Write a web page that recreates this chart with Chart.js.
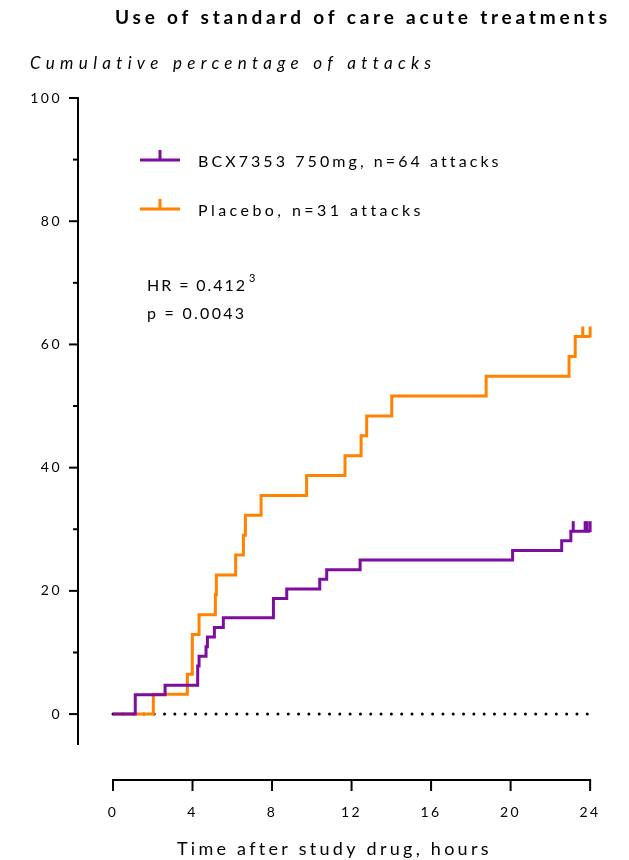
<!DOCTYPE html>
<html><head><meta charset="utf-8">
<script src="https://cdn.jsdelivr.net/npm/chart.js@4"></script>
<style>html,body{margin:0;padding:0;background:#fff;}#wrap{width:629px;height:860px;position:relative;}</style>
</head><body><div id="wrap"><canvas id="c" width="629" height="860"></canvas></div>
<script>
// ---- data ----
const bcxTimes = [0, 1.12, 2.62, 4.26, 4.33, 4.68, 4.75, 5.1, 5.55, 8.07, 8.74, 10.4, 10.75, 12.43, 20.1, 22.57, 23.03, 24];
const bcxPct   = [0, 3.13, 4.69, 7.81, 9.38, 10.94, 12.5, 14.06, 15.63, 18.75, 20.31, 21.88, 23.44, 25.0, 26.56, 28.13, 29.69, 29.69];
const placeboTimes = [0, 2.03, 3.74, 3.99, 4.33, 5.15, 5.2, 6.17, 6.56, 6.66, 7.45, 9.74, 11.67, 12.48, 12.76, 14.02, 18.77, 22.94, 23.25, 24];
const placeboPct   = [0, 3.23, 6.45, 12.9, 16.13, 19.35, 22.58, 25.81, 29.03, 32.26, 35.48, 38.71, 41.94, 45.16, 48.39, 51.61, 54.84, 58.06, 61.29, 61.29];
const bcxCensorTimes = [23.15, 23.75, 23.85, 24];
const placeboCensorTimes = [23.63, 24];
const referenceLine = [0, 24];
const xTicks = [0, 4, 8, 12, 16, 20, 24];
const yTicks = [0, 20, 40, 60, 80, 100];
const yMinorTicks = [10, 30, 50, 70, 90];
const seriesLabels = ['BCX7353 750mg, n=64 attacks', 'Placebo, n=31 attacks'];
const titleText = 'Use of standard of care acute treatments';
const yTitleText = 'Cumulative percentage of attacks';
const xTitleText = 'Time after study drug, hours';
const hrText = 'HR = 0.412', hrSup = '3', pText = 'p = 0.0043';

const PURPLE = '#7D0D9E', ORANGE = '#FF8200';
const FONT = 'Lato';

function pts(ts, vs){ return ts.map((t,i)=>({x:t,y:vs[i]})); }
function stepVal(ts, vs, t){ let v = vs[0]; for (let i=0;i<ts.length;i++){ if (ts[i] <= t) v = vs[i]; } return v; }

// draw text so that it spans a target width (letter spacing fitted)
function fitText(ctx, txt, x, y, font, targetW){
  ctx.font = font; ctx.letterSpacing = '0px';
  const w0 = ctx.measureText(txt).width;
  const sp = Math.max(0, (targetW - w0) / (txt.length - 1));
  ctx.letterSpacing = sp + 'px';
  ctx.fillText(txt, x, y);
  return w0 + sp * txt.length;
}

const deco = {
  id: 'deco',
  beforeDraw(chart){ chart.ctx.letterSpacing = '2.5px'; },
  afterDatasetsDraw(chart){
    const ctx = chart.ctx, xs = chart.scales.x, ys = chart.scales.y;
    ctx.save();
    ctx.lineWidth = 3; ctx.lineCap = 'butt';
    const censor = (times, ts, vs, col) => {
      ctx.strokeStyle = col;
      times.forEach(t => {
        const px = xs.getPixelForValue(t), py = ys.getPixelForValue(stepVal(ts, vs, t));
        ctx.beginPath(); ctx.moveTo(px, py + 1); ctx.lineTo(px, py - 10); ctx.stroke();
      });
    };
    censor(placeboCensorTimes, placeboTimes, placeboPct, ORANGE);
    censor(bcxCensorTimes, bcxTimes, bcxPct, PURPLE);
    ctx.restore();
  },
  afterDraw(chart){
    const ctx = chart.ctx, xs = chart.scales.x, ys = chart.scales.y, ca = chart.chartArea;
    ctx.save();
    ctx.strokeStyle = '#000'; ctx.lineWidth = 2; ctx.lineCap = 'butt';
    // y axis
    const yl = ca.left;
    ctx.beginPath(); ctx.moveTo(yl, ys.getPixelForValue(100) - 1); ctx.lineTo(yl, ys.getPixelForValue(-5)); ctx.stroke();
    yTicks.forEach(v => { const py = ys.getPixelForValue(v); ctx.beginPath(); ctx.moveTo(yl - 9, py); ctx.lineTo(yl, py); ctx.stroke(); });
    yMinorTicks.forEach(v => { const py = ys.getPixelForValue(v); ctx.beginPath(); ctx.moveTo(yl - 5, py); ctx.lineTo(yl, py); ctx.stroke(); });
    // x axis
    const xb = ca.bottom;
    ctx.beginPath(); ctx.moveTo(xs.getPixelForValue(0) - 1, xb); ctx.lineTo(xs.getPixelForValue(24) + 1, xb); ctx.stroke();
    xTicks.forEach(t => { const px = xs.getPixelForValue(t); ctx.beginPath(); ctx.moveTo(px, xb); ctx.lineTo(px, xb + 11); ctx.stroke(); });

    // texts
    ctx.fillStyle = '#000'; ctx.textBaseline = 'alphabetic'; ctx.textAlign = 'left';
    fitText(ctx, titleText, 115, 24, 'bold 19px ' + FONT, 492);
    fitText(ctx, yTitleText, 30, 69, 'italic 17px ' + FONT, 400);
    fitText(ctx, xTitleText, 177, 855, '18px ' + FONT, 311);

    // legend
    const leg = [[PURPLE, seriesLabels[0], 160, 300], [ORANGE, seriesLabels[1], 209, 222]];
    leg.forEach(([col, txt, y, w]) => {
      ctx.strokeStyle = col; ctx.lineWidth = 3;
      ctx.beginPath(); ctx.moveTo(140, y); ctx.lineTo(180, y); ctx.stroke();
      ctx.beginPath(); ctx.moveTo(160, y); ctx.lineTo(160, y - 10); ctx.stroke();
      ctx.fillStyle = '#000';
      fitText(ctx, txt, 198, y + 7, '16px ' + FONT, w);
    });
    // HR annotation
    const w = fitText(ctx, hrText, 147, 291, '16px ' + FONT, 98);
    ctx.letterSpacing = '0px';
    ctx.font = '11px ' + FONT; ctx.fillText(hrSup, 147 + w + 2, 282);
    fitText(ctx, pText, 147, 319, '16px ' + FONT, 97);
    ctx.restore();
  }
};

new Chart(document.getElementById('c'), {
  type: 'line',
  data: {
    datasets: [
      { label: seriesLabels[0], data: pts(bcxTimes, bcxPct), borderColor: PURPLE, borderWidth: 3, stepped: 'before', pointRadius: 0, fill: false, order: 0 },
      { label: seriesLabels[1], data: pts(placeboTimes, placeboPct), borderColor: ORANGE, borderWidth: 3, stepped: 'before', pointRadius: 0, fill: false, order: 1 },
      { label: 'ref', data: referenceLine.map(t => ({x: t, y: 0})), borderColor: '#000', borderWidth: 3, borderDash: [0.01, 10.3], borderCapStyle: 'round', pointRadius: 0, fill: false, order: 2 }
    ]
  },
  options: {
    responsive: false, animation: false, devicePixelRatio: 1,
    layout: { padding: { left: 0, top: 98, right: 19, bottom: 0 } },
    plugins: { legend: { display: false }, tooltip: { enabled: false }, title: { display: false } },
    scales: {
      x: {
        type: 'linear', min: -1.76, max: 25,
        grid: { display: false, drawTicks: false }, border: { display: false },
        afterBuildTicks: s => { s.ticks = xTicks.map(v => ({ value: v })); },
        afterFit: s => { s.height = 80; },
        ticks: { padding: 24, maxRotation: 0, autoSkip: false, color: '#000', font: { family: FONT, size: 14 } }
      },
      y: {
        type: 'linear', min: -10.7, max: 100,
        grid: { display: false, drawTicks: false }, border: { display: false },
        afterBuildTicks: s => { s.ticks = yTicks.map(v => ({ value: v })); },
        afterFit: s => { s.width = 78; },
        ticks: { padding: 16, autoSkip: false, color: '#000', font: { family: FONT, size: 14 } }
      }
    }
  },
  plugins: [deco]
});
</script></body></html>
